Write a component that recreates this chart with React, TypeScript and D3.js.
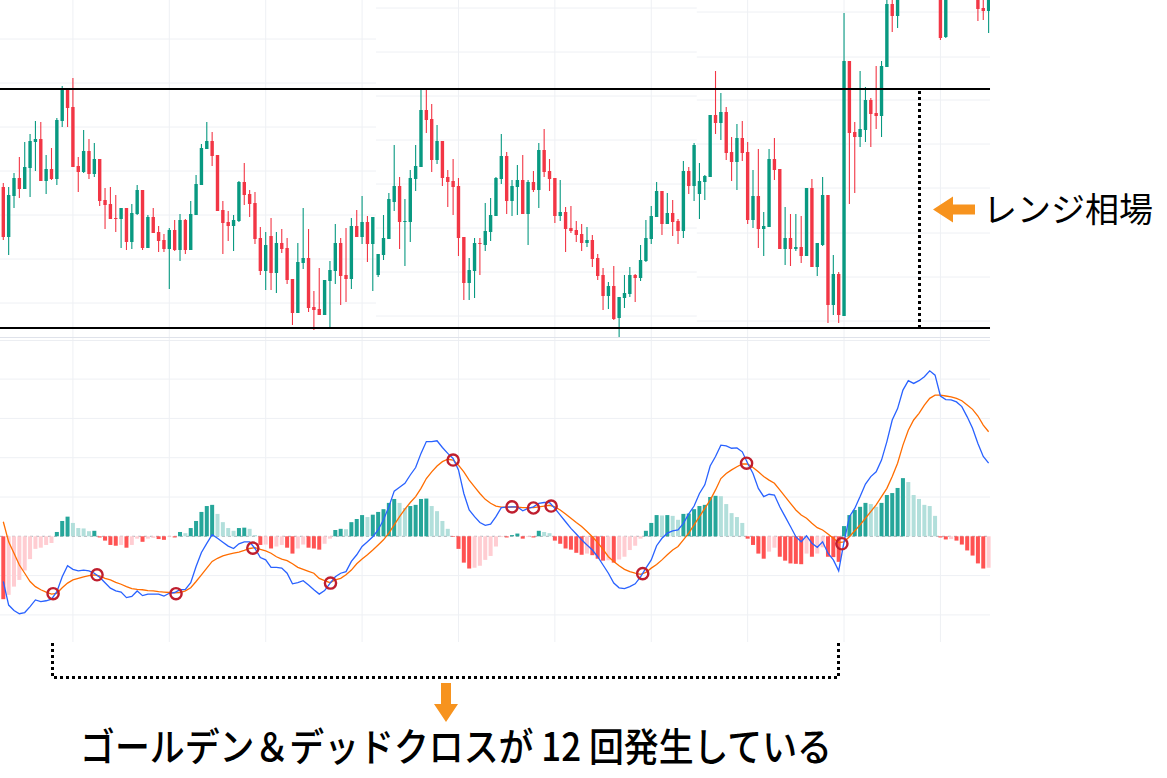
import React from 'react';
import * as d3 from 'd3';

// ---- price data: [open, high, low, close] per bar ----
const ohlc: [number, number, number, number][] = [
  [153,157,100,103],[103,153,85,145],[144,167,132,162],[162,183,142,151],[151,198,151,173],
  [172,206,143,199],[198,219,169,201],[201,218,159,159],[159,185,146,171],[171,192,160,161],
  [161,222,155,220],[219,254,213,250],[250,250,213,232],[233,262,173,173],[174,183,148,168],
  [168,210,167,189],[189,201,161,166],[166,197,163,181],[181,181,134,139],[140,152,111,135],
  [136,153,121,121],[122,145,108,121],[121,132,92,132],[132,132,90,98],[98,136,91,127],
  [126,155,125,150],[150,150,90,92],[92,125,92,123],[123,132,107,107],[108,114,88,99],
  [100,106,88,91],[91,112,51,110],[110,120,89,90],[90,126,79,120],[120,121,86,90],
  [90,139,90,126],[125,165,125,156],[155,196,155,192],[191,218,191,199],[199,208,174,184],
  [185,185,129,129],[130,139,86,117],[118,129,99,114],[114,125,89,120],[119,159,118,158],
  [158,177,135,145],[146,150,123,136],[137,148,96,101],[102,113,65,69],[69,108,50,95],
  [104,122,50,67],[67,108,47,97],[97,111,87,91],[92,102,56,60],[61,61,15,27],
  [27,97,27,78],[77,132,71,82],[82,111,28,32],[33,49,10,30],[31,72,25,25],
  [25,60,25,60],[59,79,13,70],[69,116,56,97],[97,102,35,64],[65,112,38,61],
  [61,122,51,114],[114,130,103,103],[103,144,96,118],[118,124,78,96],[96,123,49,123],
  [65,86,63,86],[85,125,80,102],[101,147,101,141],[138,195,129,154],[154,163,91,118],
  [118,141,74,119],[118,170,98,162],[161,195,149,174],[173,250,173,230],[230,250,207,220],
  [221,236,168,180],[180,215,176,199],[199,199,154,162],[163,170,133,158],[159,181,125,153],
  [154,162,84,102],[103,103,40,57],[57,82,40,70],[69,102,42,97],[97,102,65,96],
  [95,137,89,109],[108,142,99,125],[124,163,124,162],[161,206,156,184],[184,188,126,139],
  [139,160,124,154],[153,175,125,160],[160,185,126,126],[126,160,95,158],[158,169,148,150],
  [150,197,132,190],[190,211,163,168],[169,181,149,161],[162,162,117,124],[124,160,119,128],
  [128,133,88,111],[112,134,107,109],[110,119,98,105],[106,116,89,97],[97,113,93,100],
  [100,105,73,81],[82,86,60,64],[65,72,30,44],[44,58,31,54],[54,74,20,21],
  [22,43,3,43],[42,65,32,47],[46,73,43,65],[65,66,38,62],[62,95,59,80],
  [79,120,78,102],[101,134,96,124],[123,158,123,149],[149,149,105,116],[116,147,116,127],
  [127,140,104,118],[119,121,96,109],[109,179,102,169],[169,173,146,154],[154,197,139,195],
  [146,177,121,159],[158,165,140,164],[163,225,163,225],[225,269,206,217],[217,247,200,228],
  [228,233,180,187],[188,203,159,178],[178,216,150,202],[202,219,179,187],[188,198,116,120],
  [120,170,112,144],[144,191,92,111],[111,128,84,114],[113,191,113,181],[181,202,160,170],
  [171,171,91,91],[91,133,75,102],[102,126,74,91],[91,126,89,93],[93,124,77,84],
  [84,152,84,152],[152,161,73,73],[73,97,64,97],[95,163,94,145],[145,145,17,35],
  [35,85,25,66],[66,68,17,25],[24,327,24,279],[279,279,136,207],[208,218,147,203],
  [203,269,193,211],[210,253,198,240],[240,242,193,226],[227,274,211,224],[224,279,203,274],
  [273,352,273,336],[336,348,308,324],[324,358,312,350],[350,372,346,366],[366,381,352,360],
  [360,378,348,374],[374,392,362,386],[386,398,370,378],[378,390,358,364],[364,376,350,362],
  [362,370,300,302],[303,364,302,356],[356,378,348,372],[372,388,360,366],[366,380,352,374],
  [374,386,360,368],[368,378,352,360],[360,372,319,331],[332,350,320,329],[329,358,307,352],
];

// ---- MACD data ----
const macdLine = [
  -1.15,-1.75,-1.89,-1.97,-1.94,-1.79,-1.62,-1.66,-1.64,-1.6,
  -1.41,-1.03,-0.75,-0.84,-0.88,-0.86,-0.88,-0.94,-1.04,-1.18,
  -1.32,-1.39,-1.42,-1.56,-1.53,-1.39,-1.51,-1.47,-1.47,-1.47,
  -1.52,-1.45,-1.43,-1.36,-1.35,-1.18,-0.77,-0.41,-0.18,0.04,
  -0.05,-0.15,-0.25,-0.31,-0.19,-0.14,-0.14,-0.31,-0.54,-0.6,
  -0.79,-0.79,-0.81,-0.94,-1.21,-1.18,-1.13,-1.24,-1.36,-1.47,
  -1.38,-1.2,-1.03,-0.94,-0.9,-0.64,-0.47,-0.26,-0.14,-0.01,
  0.16,0.42,0.75,1.15,1.25,1.35,1.56,1.75,2.11,2.41,
  2.41,2.43,2.26,2.11,1.98,1.69,1.09,0.67,0.5,0.35,
  0.28,0.31,0.5,0.73,0.74,0.75,0.75,0.65,0.71,0.75,
  0.84,0.86,0.86,0.71,0.54,0.37,0.2,0.06,-0.09,-0.22,
  -0.35,-0.52,-0.73,-0.94,-1.19,-1.31,-1.33,-1.28,-1.21,-1.03,
  -0.81,-0.6,-0.24,-0.05,0.08,0.14,0.16,0.33,0.57,0.77,
  1.09,1.31,1.79,2.03,2.32,2.3,2.24,2.25,2.15,1.86,
  1.6,1.22,1.01,1.07,1.05,0.75,0.5,0.25,-0.01,-0.14,
  0.01,-0.18,-0.28,-0.14,-0.43,-0.6,-0.88,-0.14,0.5,0.71,
  1.01,1.33,1.52,1.64,1.94,2.41,2.96,3.25,3.72,3.96,
  3.89,3.96,4.06,4.21,4.1,3.57,3.48,3.47,3.42,3.3,
  3.04,2.75,2.36,2.03,1.86,
];

const signalLine = [
  0.37,-0.14,-0.43,-0.73,-0.94,-1.15,-1.28,-1.36,-1.42,-1.47,
  -1.45,-1.31,-1.19,-1.11,-1.07,-1.03,-1.0,-0.98,-1.01,-1.07,
  -1.11,-1.17,-1.22,-1.28,-1.33,-1.35,-1.36,-1.38,-1.39,-1.41,
  -1.42,-1.43,-1.44,-1.43,-1.39,-1.31,-1.15,-0.98,-0.81,-0.64,
  -0.56,-0.5,-0.46,-0.43,-0.4,-0.36,-0.31,-0.29,-0.33,-0.37,
  -0.43,-0.52,-0.58,-0.62,-0.7,-0.79,-0.84,-0.89,-0.94,-1.07,
  -1.13,-1.18,-1.11,-1.07,-0.98,-0.86,-0.7,-0.58,-0.47,-0.35,
  -0.22,-0.09,0.08,0.29,0.5,0.69,0.86,1.01,1.22,1.47,
  1.64,1.79,1.9,1.96,1.94,1.81,1.64,1.43,1.26,1.09,
  0.94,0.84,0.77,0.74,0.74,0.75,0.74,0.73,0.73,0.73,
  0.75,0.77,0.79,0.75,0.67,0.57,0.46,0.35,0.25,0.12,
  -0.01,-0.16,-0.33,-0.52,-0.64,-0.75,-0.84,-0.9,-0.94,-0.97,
  -0.92,-0.81,-0.72,-0.6,-0.47,-0.35,-0.26,-0.09,0.08,0.29,
  0.5,0.71,0.92,1.18,1.47,1.6,1.69,1.77,1.84,1.84,
  1.75,1.64,1.52,1.43,1.35,1.18,1.01,0.84,0.67,0.54,
  0.46,0.33,0.22,0.16,0.06,-0.05,-0.16,-0.14,-0.01,0.14,
  0.29,0.46,0.63,0.8,1.01,1.22,1.52,1.86,2.32,2.7,
  2.96,3.13,3.34,3.51,3.59,3.59,3.57,3.55,3.51,3.45,
  3.34,3.23,3.06,2.83,2.66,
];

const histogram = [
  -1.6,-1.49,-1.28,-1.11,-0.87,-0.58,-0.32,-0.29,-0.22,-0.17,
  0.11,0.39,0.5,0.34,0.21,0.2,0.13,0.14,-0.03,-0.11,
  -0.22,-0.24,-0.22,-0.29,-0.22,-0.06,-0.14,-0.06,-0.04,-0.07,
  -0.09,-0.02,-0.03,0.11,0.08,0.21,0.39,0.62,0.77,0.8,
  0.57,0.36,0.21,0.14,0.21,0.22,0.19,0.03,-0.22,-0.21,
  -0.31,-0.26,-0.22,-0.29,-0.44,-0.31,-0.21,-0.29,-0.31,-0.34,
  -0.19,-0.06,0.16,0.19,0.18,0.36,0.44,0.54,0.49,0.55,
  0.62,0.69,0.85,0.95,0.85,0.72,0.77,0.8,0.95,0.96,
  0.77,0.64,0.39,0.19,-0.01,-0.32,-0.67,-0.82,-0.8,-0.75,
  -0.6,-0.5,-0.26,-0.02,-0.03,0.03,0.07,-0.06,-0.02,-0.03,
  0.14,0.11,0.08,-0.11,-0.19,-0.31,-0.34,-0.42,-0.47,-0.44,
  -0.48,-0.57,-0.62,-0.61,-0.67,-0.59,-0.52,-0.35,-0.24,-0.06,
  0.14,0.34,0.54,0.53,0.54,0.52,0.42,0.57,0.58,0.69,
  0.77,0.8,1.0,1.03,1.02,0.82,0.59,0.49,0.34,-0.06,
  -0.22,-0.44,-0.57,-0.39,-0.29,-0.52,-0.62,-0.69,-0.7,-0.71,
  -0.44,-0.52,-0.44,-0.28,-0.52,-0.53,-0.65,0.26,0.54,0.67,
  0.75,0.85,0.82,0.75,0.85,1.05,1.1,1.23,1.48,1.38,
  1.05,0.95,0.8,0.77,0.52,-0.03,-0.08,-0.07,-0.11,-0.21,
  -0.36,-0.49,-0.69,-0.82,-0.8,
];

// golden / dead crosses marked on the chart: [bar index (1-based), MACD value]
const crossings: [number, number][] = [
  [10.3,-1.46],[18.5,-0.98],[33.25,-1.46],[47.6,-0.3],[62.1,-1.19],[85.0,1.94],
  [96.0,0.75],[100.0,0.72],[103.3,0.77],[120.4,-0.95],[139.8,1.86],[157.6,-0.19],
];

// range (box) levels and breakout bar
const rangeHigh = 251;
const rangeLow = 12;
const breakoutBar = 172;

// grid: time ticks (bar index), and price grid levels per stitched section
const timeTicks = [14, 32, 50, 68, 86, 104, 122, 140, 158, 176];
const sectionBars = [0.38, 70.6, 130.5, 185.26];
const sectionLevels = [
  [37, 81, 125, 169, 213, 257, 301, 345],
  [24, 68, 112, 156, 200, 244, 288, 332],
  [19, 63, 107, 152, 196, 240, 283, 328],
];
const macdTicks = [-2, -1, 1, 2, 3, 4];

const rangeLabel = 'レンジ相場';
const crossLabel = 'ゴールデン＆デッドクロスが 12 回発生している';

const W = 1167;
const H = 778;

const UP = '#089981';
const DOWN = '#f23645';
const GRID = '#eef0f4';

export default function App() {
  const n = ohlc.length;
  const x = d3.scaleLinear().domain([1, n]).range([3.3, 3.3 + 5.355 * (n - 1)]);
  const y = d3.scaleLinear().domain([0, 340]).range([340, 0]);
  const ym = d3.scaleLinear().domain([-2, 4]).range([614.9, 379.1]);
  const xLeft = x(sectionBars[0]);
  const xRight = x(sectionBars[3]);

  const line = d3
    .line<number>()
    .x((_, i) => x(i + 1))
    .y((d) => ym(d))
    .curve(d3.curveLinear);

  const histColor = (v: number, prev: number) =>
    v >= 0 ? (v >= prev ? '#26a69a' : '#b2dfdb') : v < prev ? '#ff5252' : '#ffcdd2';

  const bodyW = 3.4;
  const barW = 4;
  const breakX = Math.round(x(breakoutBar)) + 0.5;

  return (
    <svg
      width={W}
      height={H}
      viewBox={`0 0 ${W} ${H}`}
      style={{ position: 'absolute', left: 0, top: 0, background: '#fff' }}
      fontFamily="'Noto Sans CJK JP', 'Noto Sans', sans-serif"
    >
      <rect x={0} y={0} width={W} height={H} fill="#fff" />
      <defs>
        <clipPath id="pricePane">
          <rect x={0} y={0} width={xRight} height={337} />
        </clipPath>
      </defs>

      {/* vertical grid */}
      {timeTicks.map((t) => (
        <line key={'vt' + t} x1={x(t)} x2={x(t)} y1={0} y2={642} stroke={GRID} strokeWidth={1} />
      ))}

      {/* price pane horizontal grid, per section */}
      <g clipPath="url(#pricePane)">
        {sectionLevels.map((levels, s) =>
          levels.map((lv) => (
            <line
              key={`h${s}-${lv}`}
              x1={x(sectionBars[s])}
              x2={x(sectionBars[s + 1])}
              y1={y(lv)}
              y2={y(lv)}
              stroke={GRID}
              strokeWidth={1}
            />
          ))
        )}
      </g>

      {/* pane separator */}
      <line x1={xLeft} x2={xRight} y1={337.5} y2={337.5} stroke="#dfe2ea" strokeWidth={1} />
      <line x1={xLeft} x2={xRight} y1={340.5} y2={340.5} stroke="#eceef2" strokeWidth={1} />

      {/* MACD grid */}
      {macdTicks.map((t) => (
        <line key={'mg' + t} x1={xLeft} x2={xRight} y1={ym(t)} y2={ym(t)} stroke={GRID} strokeWidth={1} />
      ))}
      <line
        x1={xLeft}
        x2={xRight}
        y1={ym(0)}
        y2={ym(0)}
        stroke="#a9acb5"
        strokeWidth={1}
        strokeDasharray="3,3"
      />

      {/* candles */}
      <g clipPath="url(#pricePane)">
        {ohlc.map(([o, h, l, c], i) => {
          const cx = x(i + 1);
          const col = c >= o ? UP : DOWN;
          const top = y(Math.max(o, c));
          const bot = y(Math.min(o, c));
          return (
            <g key={'c' + i}>
              <line x1={cx} x2={cx} y1={y(h)} y2={y(l)} stroke={col} strokeWidth={1.1} />
              <rect x={cx - bodyW / 2} y={top} width={bodyW} height={Math.max(1, bot - top)} fill={col} />
            </g>
          );
        })}
      </g>

      {/* range lines */}
      <line x1={xLeft} x2={xRight} y1={y(rangeHigh)} y2={y(rangeHigh)} stroke="#000" strokeWidth={2} />
      <line x1={xLeft} x2={xRight} y1={y(rangeLow)} y2={y(rangeLow)} stroke="#000" strokeWidth={2} />
      <line
        x1={breakX}
        x2={breakX}
        y1={y(rangeHigh) + 2}
        y2={y(rangeLow) - 1}
        stroke="#000"
        strokeWidth={3}
        strokeDasharray="3,3"
      />

      {/* histogram */}
      {histogram.map((v, i) => {
        const prev = i > 0 ? histogram[i - 1] : 0;
        const y0 = ym(0);
        const y1 = ym(v);
        return (
          <rect
            key={'hb' + i}
            x={x(i + 1) - barW / 2}
            y={Math.min(y0, y1)}
            width={barW}
            height={Math.max(0.6, Math.abs(y1 - y0))}
            fill={histColor(v, prev)}
          />
        );
      })}

      {/* MACD & signal */}
      <path d={line(signalLine) || ''} fill="none" stroke="#ff6d00" strokeWidth={1.3} />
      <path d={line(macdLine) || ''} fill="none" stroke="#2962ff" strokeWidth={1.3} />

      {/* crossing circles */}
      {crossings.map(([bi, v], k) => (
        <circle key={'x' + k} cx={x(bi)} cy={ym(v)} r={5.6} fill="none" stroke="#bf1e2e" strokeWidth={2.4} />
      ))}

      {/* right annotation */}
      <polygon
        points="933,209.5 953,196.5 953,204.5 975,204.5 975,214.5 953,214.5 953,222.5"
        fill="#f7931e"
      />
      <text x={983} y={221.5} fontSize={34} fill="#000">
        {rangeLabel}
      </text>

      {/* bottom bracket */}
      <path
        d="M52.5,643 L52.5,677.5 L838.5,677.5 L838.5,643"
        fill="none"
        stroke="#000"
        strokeWidth={3}
        strokeDasharray="3,3"
      />
      <polygon points="441,683 451,683 451,704 458,704 446,722 434,704 441,704" fill="#f7931e" />
      <text
        x={80}
        y={761}
        fontSize={39}
        fontWeight={500}
        fill="#000"
        textLength={752}
        lengthAdjust="spacingAndGlyphs"
      >
        {crossLabel}
      </text>
    </svg>
  );
}
